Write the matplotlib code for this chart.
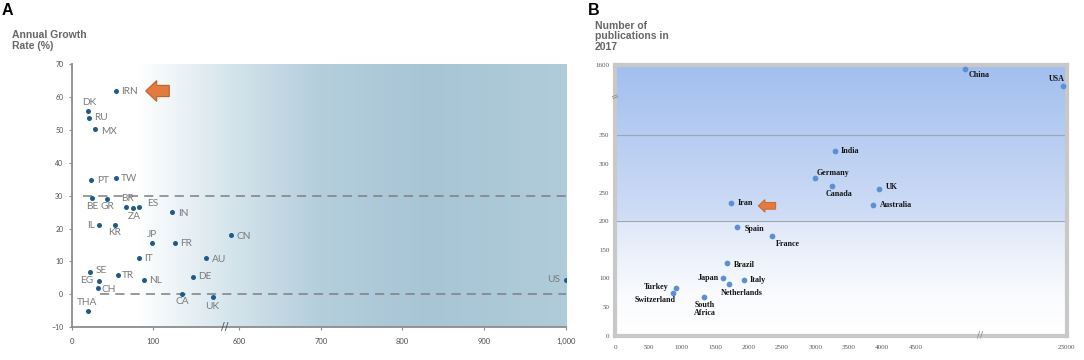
import matplotlib.pyplot as plt
import numpy as np
from matplotlib.colors import to_rgb
from matplotlib.patches import FancyArrow

# ---- panel A: annual growth rate (broken x axis) ----
a_codes = ['IRN', 'DK', 'RU', 'MX', 'PT', 'TW', 'BE', 'GR', 'BR', 'ZA', 'ES', 'IN',
           'IL', 'KR', 'CN', 'JP', 'FR', 'IT', 'AU', 'SE', 'TR', 'NL', 'DE', 'EG',
           'CH', 'CA', 'UK', 'THA', 'US']
a_x = [54, 20, 21, 29, 24, 54, 25, 43, 67, 75, 82, 123,
       33, 53, 195, 98, 127, 82, 164, 22, 57, 89, 149, 33,
       32, 135, 173, 20, 1000]
a_growth = [61.7, 55.7, 53.7, 50.2, 34.9, 35.3, 29.3, 29.1, 26.6, 26.2, 26.6, 25.0,
            21.0, 21.2, 18.0, 15.7, 15.7, 11.0, 11.0, 6.9, 5.8, 4.4, 5.3, 4.1,
            2.0, 0.0, -0.8, -4.9, 4.4]
a_xticks = [0, 100, 600, 700, 800, 900, 1000]
a_xticklabels = ['0', '100', '600', '700', '800', '900', '1,000']
a_yticks = [-10, 0, 10, 20, 30, 40, 50, 60, 70]
a_refs = [30, 0]

# ---- panel B: number of publications in 2017 ----
b_countries = ['China', 'USA', 'India', 'Germany', 'Canada', 'UK', 'Australia', 'Iran',
               'Spain', 'France', 'Brazil', 'Japan', 'Italy', 'Netherlands', 'Turkey',
               'Switzerland', 'South Africa']
b_x = [5235, 22200, 3293, 2991, 3244, 3948, 3867, 1737,
       1831, 2346, 1681, 1621, 1936, 1711, 908,
       873, 1332]
b_pubs = [1529, 1234, 323, 276, 262, 256, 229, 231,
          190, 174, 127, 100, 97, 90, 83,
          75, 67]
b_xticks = [0, 500, 1000, 1500, 2000, 2500, 3000, 3500, 4000, 4500, 23000]
b_yticks = [0, 50, 100, 150, 200, 250, 300, 350, 1600]
b_refs = [350, 200]

# label placement: (dx px, dy px, ha, va)
a_pos = {'IRN': (5, 0, 'left', 'center'), 'DK': (1, 4, 'center', 'bottom'),
         'RU': (5, 0, 'left', 'center'), 'MX': (6, -2, 'left', 'center'),
         'PT': (6, -1, 'left', 'center'), 'TW': (5, 0, 'left', 'center'),
         'BE': (0, -4, 'center', 'top'), 'GR': (1, -3, 'center', 'top'),
         'BR': (1, 4, 'center', 'bottom'), 'ZA': (1, -4, 'center', 'top'),
         'ES': (8, 3, 'left', 'center'), 'IN': (6, -1, 'left', 'center'),
         'IL': (-4, 0, 'right', 'center'), 'KR': (0, -3, 'center', 'top'),
         'CN': (6, -1, 'left', 'center'), 'JP': (0, 4, 'center', 'bottom'),
         'FR': (5, -1, 'left', 'center'), 'IT': (5, 0, 'left', 'center'),
         'AU': (6, -1, 'left', 'center'), 'SE': (6, 1, 'left', 'center'),
         'TR': (4, 0, 'left', 'center'), 'NL': (5, -1, 'left', 'center'),
         'DE': (5, 0, 'left', 'center'), 'EG': (-5, 0, 'right', 'center'),
         'CH': (4, -2, 'left', 'center'), 'CA': (0, -3, 'center', 'top'),
         'UK': (-1, -5, 'center', 'top'), 'THA': (-1, 4, 'center', 'bottom'),
         'US': (-6, 0, 'right', 'center')}
b_pos = {'China': (4, -2, 'left', 'top'), 'USA': (2, 3, 'right', 'bottom'),
         'India': (6, 0, 'left', 'center'), 'Germany': (2, 1, 'left', 'bottom'),
         'Canada': (7, -4, 'center', 'top'), 'UK': (7, 2, 'left', 'center'),
         'Australia': (7, 0, 'left', 'center'), 'Iran': (7, 0, 'left', 'center'),
         'Spain': (7, -2, 'left', 'center'), 'France': (4, -4, 'left', 'top'),
         'Brazil': (7, -2, 'left', 'center'), 'Japan': (-5, 0, 'right', 'center'),
         'Italy': (5, 0, 'left', 'center'), 'Netherlands': (12, -5, 'center', 'top'),
         'Turkey': (-7, 1, 'right', 'center'), 'Switzerland': (-18, -3, 'center', 'top'),
         'South Africa': (1, -4, 'center', 'top')}


def broken(src, dst):
    return (lambda v: np.interp(v, src, dst)), (lambda v: np.interp(v, dst, src))


def gradient(stops, n=256):
    pos = [p for p, c in stops]
    cols = np.array([to_rgb(c) for p, c in stops])
    t = np.linspace(0, 1, n)
    return np.stack([np.interp(t, pos, cols[:, i]) for i in range(3)], axis=-1)


fig = plt.figure(figsize=(10.84, 3.6), dpi=100)
W, H = 1084, 360

# ================= panel A =================
axA = fig.add_axes([71.7 / W, 1 - 327.3 / H, 494 / W, 263.3 / H])
axA.set_xscale('function', functions=broken([0, 200, 600, 1000], [0, 200, 205, 605]))
grad = gradient([(0, '#ffffff'), (0.13, '#ffffff'), (0.3, '#d9e7ee'),
                 (0.5, '#b4cedc'), (0.72, '#a8c5d6'), (1.0, '#b0ccda')])
axA.imshow(grad[None, :, :], extent=(0, 1, 0, 1), transform=axA.transAxes,
           aspect='auto', interpolation='bilinear', zorder=0)

for yv, x0 in zip(a_refs, [14, 35]):
    axA.plot([x0, 1000], [yv, yv], ls=(0, (6, 4)), color='#7f7f7f', lw=1.1, zorder=1)

axA.scatter(a_x, a_growth, s=13, color='#1d5a8e', zorder=3, linewidths=0)
for c, x, y in zip(a_codes, a_x, a_growth):
    dx, dy, ha, va = a_pos[c]
    axA.annotate(c, (x, y), xytext=(dx, dy), textcoords='offset pixels', ha=ha, va=va,
                 fontsize=7.3, color='#7a7a7a', family=['Lato', 'DejaVu Sans'], zorder=4)

axA.add_patch(FancyArrow(119.5, 61.8, -28.9, 0, width=3.4, head_width=6.3,
                         head_length=13.5, length_includes_head=True,
                         fc='#e27c3e', ec='#c25f25', lw=0.8, zorder=5))

axA.set_xlim(0, 1000)
axA.set_ylim(-10, 70)
axA.set_xticks(a_xticks)
axA.set_xticklabels(a_xticklabels)
axA.set_yticks(a_yticks)
axA.minorticks_off()
for s in ['top', 'right']:
    axA.spines[s].set_visible(False)
for s in ['left', 'bottom']:
    axA.spines[s].set_color('#8c8c8c')
    axA.spines[s].set_linewidth(1.3)
axA.tick_params(axis='both', length=2.5, width=0.8, color='#8c8c8c', labelcolor='#4d4d4d')
axA.tick_params(axis='y', labelsize=5, pad=3.5)
axA.tick_params(axis='x', labelsize=5.5, pad=5)
for lab in axA.get_xticklabels() + axA.get_yticklabels():
    lab.set_family(['Lato', 'DejaVu Sans'])
axA.text(188, -10, '//', ha='center', va='center', fontsize=8, color='#555555',
         clip_on=False, zorder=6)

fig.text(2 / W, 1 - 3 / H, 'A', ha='left', va='top', fontsize=11.5, fontweight='bold',
         family='Liberation Sans')
fig.text(12 / W, 1 - 30 / H, 'Annual Growth\nRate (%)', ha='left', va='top',
         fontsize=7.5, fontweight='bold', color='#666666', family='Liberation Sans',
         linespacing=1.1)

# ================= panel B =================
axB = fig.add_axes([615 / W, 1 - 335.5 / H, 451.7 / W, 270.5 / H])
axB.set_xscale('function', functions=broken([0, 5476, 23000], [0, 5476, 6762]))
axB.set_yscale('function', functions=broken([0, 350, 1600], [0, 350, 473]))
gradB = gradient([(0, '#ffffff'), (0.15, '#fafbfe'), (0.42, '#dfe8f8'),
                  (0.43, '#d0ddf5'), (1.0, '#a2bfef')])
axB.imshow(gradB[:, None, :], extent=(0, 1, 0, 1), transform=axB.transAxes,
           origin='lower', aspect='auto', interpolation='bilinear', zorder=0)
for yv in b_refs:
    axB.axhline(yv, color='#9ba6b6', lw=0.8, zorder=1)

axB.scatter(b_x, b_pubs, s=17, color='#5b8fd6', zorder=3, linewidths=0)
for c, x, y in zip(b_countries, b_x, b_pubs):
    dx, dy, ha, va = b_pos[c]
    axB.annotate(c.replace(' ', '\n'), (x, y), xytext=(dx, dy), textcoords='offset pixels',
                 ha=ha, va=va, fontsize=5.8, fontweight='bold', color='#111111',
                 family='Liberation Serif', linespacing=1.0, zorder=4)

axB.add_patch(FancyArrow(2406, 226.7, -261, 0, width=11.7, head_width=22,
                         head_length=100, length_includes_head=True,
                         fc='#e27c3e', ec='#c25f25', lw=0.6, zorder=5))

axB.set_xlim(0, 23000)
axB.set_ylim(0, 1600)
axB.set_xticks(b_xticks)
axB.set_yticks(b_yticks)
axB.minorticks_off()
for s in axB.spines.values():
    s.set_color('#c8c8c8')
    s.set_linewidth(3)
axB.tick_params(axis='both', length=0, labelsize=5, labelcolor='#555555')
axB.tick_params(axis='y', pad=4)
axB.tick_params(axis='x', pad=7)
for lab in axB.get_xticklabels() + axB.get_yticklabels():
    lab.set_family('Liberation Serif')
axB.text(0, 1041, '=', ha='center', va='center', fontsize=7, color='#8a8a8a',
         rotation=20, clip_on=False, zorder=6)
axB.text(5464, 0, '//', ha='center', va='center', fontsize=6.5, color='#8a8a8a',
         clip_on=False, zorder=6)

fig.text(588 / W, 1 - 3 / H, 'B', ha='left', va='top', fontsize=11.5, fontweight='bold',
         family='Liberation Sans')
fig.text(595 / W, 1 - 21 / H, 'Number of\npublications in\n2017', ha='left', va='top',
         fontsize=7.5, fontweight='bold', color='#666666', family='Liberation Sans',
         linespacing=1.05)

fig.savefig('out.png', dpi=100)
